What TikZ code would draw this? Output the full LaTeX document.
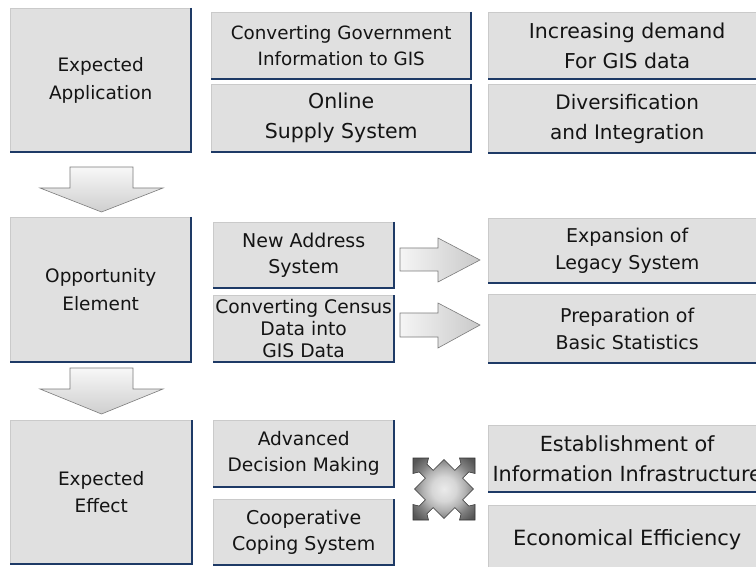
\documentclass[tikz,border=0pt]{standalone}
\usepackage{fontspec}
\setmainfont{DejaVu Sans}
\usetikzlibrary{calc}
\definecolor{boxfill}{HTML}{E0E0E0}
\definecolor{navy}{HTML}{1E3A66}
\definecolor{arrline}{HTML}{7C7C7C}
\pgfdeclareradialshading{xshade}{\pgfpoint{0bp}{0bp}}{color(0bp)=(black!8); color(10bp)=(black!16); color(17bp)=(black!30); color(24bp)=(black!50); color(32bp)=(black!66); color(50bp)=(black!70)}
\tikzset{
  box/.style={fill=boxfill, draw=boxfill!90!black, line width=0.4pt, inner sep=0pt, align=center, anchor=north west, text=black!92},
  fs/.style 2 args={font=\fontsize{#1}{#2}\selectfont},
  edge/.style={draw=navy, line width=2pt},
  downarrow/.style={top color=gray!6, bottom color=gray!38, draw=arrline, line width=0.6pt},
  rightarrow/.style={left color=gray!8, right color=gray!42, draw=arrline, line width=0.6pt},
}
\begin{document}
\begin{tikzpicture}[x=1pt,y=-1pt]
\useasboundingbox (0,0) rectangle (756,567);
\fill[white] (0,0) rectangle (756,567);
\clip (0,0) rectangle (756,567);

% left column
\node[box, fs={18.5}{27.5}, minimum width=181pt, minimum height=144pt] (ea) at (10,8) {Expected\\Application};
\node[box, fs={18.5}{27.5}, minimum width=181pt, minimum height=145pt] (oe) at (10,217) {Opportunity\\Element};
\node[box, fs={18.5}{27.5}, minimum width=182pt, minimum height=144pt] (ee) at (10,420) {Expected\\Effect};

% middle column
\node[box, fs={18.3}{26}, minimum width=260pt, minimum height=67pt] (m1) at (211,12) {Converting Government\\Information to GIS};
\node[box, fs={20.5}{30}, minimum width=260pt, minimum height=68pt] (m2) at (211,84) {Online\\Supply System};
\node[box, fs={19}{26}, minimum width=181pt, minimum height=66pt] (m3) at (213,222) {New Address\\System};
\node[box, fs={18.7}{22}, minimum width=181pt, minimum height=67pt] (m4) at (213,295) {Converting Census\\Data into\\GIS Data};
\node[box, fs={18.6}{26}, minimum width=181pt, minimum height=67pt] (m5) at (213,420) {Advanced\\Decision Making};
\node[box, fs={19}{26}, minimum width=181pt, minimum height=66pt] (m6) at (213,499) {Cooperative\\Coping System};

% right column
\node[box, fs={20.5}{30}, minimum width=278pt, minimum height=67pt] (r1) at (488,12) {Increasing demand\\For GIS data};
\node[box, fs={20}{30}, minimum width=278pt, minimum height=69pt] (r2) at (488,84) {Diversification\\and Integration};
\node[box, fs={19}{27}, minimum width=278pt, minimum height=65pt] (r3) at (488,218) {Expansion of\\Legacy System};
\node[box, fs={19}{27}, minimum width=278pt, minimum height=69pt] (r4) at (488,294) {Preparation of\\Basic Statistics};
\node[box, fs={20.8}{30}, minimum width=278pt, minimum height=67pt] (r5) at (488,425) {Establishment of\\Information Infrastructure};
\node[box, fs={21}{30}, minimum width=278pt, minimum height=70pt] (r6) at (488,505) {Economical Efficiency};

\foreach \n in {ea,oe,ee,m1,m2,m3,m4,m5,m6,r1,r2,r3,r4,r5,r6}
  \draw[edge] (\n.north east) -- (\n.south east) -- (\n.south west);

% down arrows
\draw[downarrow] (70,167) -- (133,167) -- (133,188) -- (163,188) -- (101.5,212) -- (40,188) -- (70,188) -- cycle;
\draw[downarrow] (70,368) -- (133,368) -- (133,389) -- (163,389) -- (101.5,414) -- (40,389) -- (70,389) -- cycle;

% right arrows
\draw[rightarrow] (400,248) -- (438,248) -- (438,238) -- (480,260) -- (438,282) -- (438,271) -- (400,271) -- cycle;
\draw[rightarrow] (400,313) -- (438,313) -- (438,303) -- (480,325) -- (438,348) -- (438,337) -- (400,337) -- cycle;

% four-way arrow
\begin{scope}[shift={(444,489)}, x=31pt, y=31pt]
\shadedraw[shading=xshade, draw=gray!40!black, line width=0.6pt]
 (0,0.95) -- (0.35,0.6) -- (0.55,0.8) -- (0.5,1) -- (1,1) -- (1,0.5) -- (0.8,0.55) -- (0.6,0.35)
 -- (0.95,0) -- (0.6,-0.35) -- (0.8,-0.55) -- (1,-0.5) -- (1,-1) -- (0.5,-1) -- (0.55,-0.8) -- (0.35,-0.6)
 -- (0,-0.95) -- (-0.35,-0.6) -- (-0.55,-0.8) -- (-0.5,-1) -- (-1,-1) -- (-1,-0.5) -- (-0.8,-0.55) -- (-0.6,-0.35)
 -- (-0.95,0) -- (-0.6,0.35) -- (-0.8,0.55) -- (-1,0.5) -- (-1,1) -- (-0.5,1) -- (-0.55,0.8) -- (-0.35,0.6) -- cycle;
\end{scope}
\end{tikzpicture}
\end{document}
